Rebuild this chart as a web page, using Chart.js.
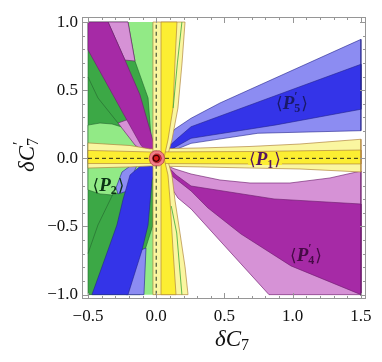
<!DOCTYPE html>
<html>
<head>
<meta charset="utf-8">
<script src="https://cdn.jsdelivr.net/npm/chart.js@4.4.1/dist/chart.umd.min.js"></script>
<style>
  html, body { margin: 0; padding: 0; background: #fff; }
  #wrap { width: 382px; height: 362px; }
</style>
</head>
<body>
<div id="wrap"><canvas id="c" width="382" height="362"></canvas></div>
<script>
// tick labels
const xTicks = [-0.5, 0, 0.5, 1, 1.5];
const yTicks = [-1, -0.5, 0, 0.5, 1];

// region outlines in (dC7, dC7') units
const p2Base = [[-0.5, -1], [0.0, -1], [0.0, 1], [-0.5, 1]];
const p2Inner = [[-0.5, 1], [-0.207, 1], [-0.156, 0.714], [-0.060, 0.443], [-0.031, 0.061], [-0.016, -0.049],
  [-0.024, -0.489], [-0.082, -0.672], [-0.119, -1], [-0.5, -1]];
const p2Hole = [[-0.5, 0.244], [-0.412, 0.259], [-0.324, 0.252], [-0.229, 0.223], [-0.141, 0.171], [-0.082, 0.091],
  [-0.053, -0.012], [-0.075, -0.115], [-0.134, -0.181], [-0.222, -0.239], [-0.324, -0.269], [-0.412, -0.261], [-0.5, -0.232]];
const p2LineUp = [[0.188, 1], [0.155, 0.7], [0.124, 0.369]];
const p2LineDown = [[0.110, -0.35], [0.150, -0.548], [0.188, -1]];

const p4Sliver = [[-0.280, 0.259], [-0.178, 0.296], [-0.046, 0.135], [-0.009, 0.025], [-0.031, 0.003], [-0.156, 0.098]];
const p4EdgeLine = [[-0.5, 0.597], [-0.427, 0.443], [-0.280, 0.259]];
const p4Wedge = [[-0.353, 1], [-0.207, 1], [-0.156, 0.714], [-0.229, 0.721]];
const p4OuterLow = [[0.027, -0.034], [0.137, -0.078], [0.255, -0.115], [0.467, -0.159], [0.687, -0.181], [0.980, -0.181],
  [1.273, -0.144], [1.5, -0.093], [1.5, -1], [0.826, -1], [0.255, -0.371], [0.159, -0.291], [0.064, -0.144]];
const p4Inner = [[-0.5, 1], [-0.353, 1], [-0.229, 0.721], [-0.119, 0.465], [-0.046, 0.208], [0.005, 0.025],
  [0.145, -0.122], [0.255, -0.203], [0.863, -0.298], [1.5, -0.335], [1.5, -1], [0.987, -0.789], [0.621, -0.555],
  [0.379, -0.364], [0.255, -0.239], [0.115, -0.129], [-0.009, -0.027], [-0.113, 0.098], [-0.203, 0.259],
  [-0.317, 0.465], [-0.5, 0.795]];

const p5Sliver = [[-0.119, -0.005], [-0.251, -0.100], [-0.295, -0.217], [-0.280, -0.261], [-0.207, -0.239], [-0.156, -0.085]];
const p5EdgeLine = [[-0.5, -0.698], [-0.427, -0.489], [-0.324, -0.276], [-0.295, -0.217]];
const p5OuterUp = [[-0.002, 0.010], [0.049, 0.113], [0.137, 0.215], [0.255, 0.294], [0.467, 0.406], [1.5, 0.873],
  [1.5, 0.203], [0.745, 0.184], [0.255, 0.110], [0.101, 0.047], [0.013, 0.003]];
const p5OuterLow = [[-0.221, -1], [-0.090, -1], [-0.075, -0.658], [-0.112, -0.672]];
const p5Inner = [[-0.471, -1], [-0.353, -0.672], [-0.288, -0.489], [-0.244, -0.305], [-0.192, -0.122], [-0.082, -0.027],
  [-0.009, 0.017], [0.079, 0.076], [0.159, 0.149], [0.255, 0.232], [0.877, 0.461], [1.5, 0.690], [1.5, 0.360],
  [0.877, 0.245], [0.255, 0.147], [0.115, 0.069], [0.027, -0.012], [-0.031, -0.159], [-0.060, -0.489],
  [-0.104, -0.672], [-0.207, -1]];

const p1OuterH = [[-0.5, 0.113], [-0.192, 0.094], [-0.046, 0.069], [0.321, 0.076], [0.687, 0.087], [1.053, 0.105],
  [1.5, 0.140], [1.5, -0.100], [1.053, -0.078], [0.687, -0.071], [0.321, -0.063], [-0.046, -0.056], [-0.192, -0.063],
  [-0.5, -0.071]];
const p1OuterV = [[-0.024, 1], [0.211, 1], [0.189, 0.699], [0.159, 0.369], [0.115, 0.135], [0.079, 0.003],
  [0.115, -0.122], [0.137, -0.305], [0.174, -0.548], [0.211, -0.796], [0.233, -1], [-0.024, -1]];
const p1InnerH = [[-0.5, 0.058], [-0.046, 0.047], [0.687, 0.050], [1.5, 0.061], [1.5, -0.041], [0.687, -0.041],
  [-0.046, -0.038], [-0.5, -0.038]];
const p1InnerV = [[0.035, 1], [0.152, 1], [0.137, 0.699], [0.123, 0.369], [0.086, 0.135], [0.057, 0.003],
  [0.086, -0.122], [0.101, -0.305], [0.123, -0.672], [0.145, -1], [0.035, -1]];

const dashH = [[-0.5, 0], [1.5, 0]];
const dashV = [[0, -1], [0, 1]];

const combOuter = [[0.062, 0.000], [0.052, 0.034], [0.024, 0.055], [-0.016, 0.055], [-0.043, 0.034], [-0.053, 0.000],
  [-0.043, -0.034], [-0.016, -0.055], [0.024, -0.055], [0.052, -0.034]];
const combInner = [[0.038, 0], [0.032, 0.020], [0.015, 0.032], [-0.005, 0.032], [-0.022, 0.020], [-0.028, 0],
  [-0.022, -0.020], [-0.005, -0.032], [0.015, -0.032], [0.032, -0.020]];
const smPoint = [[0.0, 0.0]];

// labels: text parts, position, colour
const regionLabels = [
  { sub: '5', prime: true, at: [0.995, 0.405], color: 'rgb(25,25,105)' },
  { sub: '1', prime: false, at: [0.797, -0.005], color: 'rgb(85,20,95)', box: 'rgb(252,238,50)' },
  { sub: '2', prime: false, at: [-0.35, -0.195], color: 'rgb(10,50,20)' },
  { sub: '4', prime: true, at: [1.097, -0.709], color: 'rgb(70,10,70)' },
];

const colors = {
  lightGreen: 'rgb(146,234,134)',
  darkGreen: 'rgb(60,168,70)',
  lightPurple: 'rgb(214,146,214)',
  darkPurple: 'rgb(166,42,166)',
  lightBlue: 'rgb(140,140,242)',
  darkBlue: 'rgb(52,52,232)',
  lightYellow: 'rgb(250,246,160)',
  darkYellow: 'rgb(252,238,50)',
};

const toXY = (pts) => pts.map(([x, y]) => ({ x, y }));

function area(pts, fillColor, lineColor, width = 0.8) {
  return {
    data: toXY(pts.concat([pts[0]])),
    showLine: true,
    fill: 'shape',
    backgroundColor: fillColor,
    borderColor: lineColor,
    borderWidth: width,
    pointRadius: 0,
    tension: 0,
  };
}

function curve(pts, color, width, dash) {
  return {
    data: toXY(pts),
    showLine: true,
    fill: false,
    borderColor: color,
    borderWidth: width,
    borderDash: dash || [],
    pointRadius: 0,
    tension: 0,
  };
}

const greenEdge = 'rgba(35,100,45,0.75)';
const purpleEdge = 'rgba(110,30,110,0.8)';
const blueEdge = 'rgba(35,35,140,0.75)';
const yellowEdge = 'rgba(175,130,60,0.85)';

// bottom layer first
const layers = [
  area(p2Base, colors.lightGreen, colors.lightGreen, 0),
  area(p2Inner, colors.darkGreen, greenEdge),
  area(p2Hole, colors.lightGreen, greenEdge),
  area(p4Sliver, colors.lightPurple, purpleEdge),
  area(p5Sliver, colors.lightBlue, blueEdge),
  curve(p4EdgeLine, greenEdge, 0.8),
  curve(p5EdgeLine, greenEdge, 0.8),
  area(p5OuterUp, colors.lightBlue, blueEdge),
  area(p5OuterLow, colors.lightBlue, blueEdge),
  area(p5Inner, colors.darkBlue, blueEdge),
  area(p4Wedge, colors.lightPurple, purpleEdge),
  area(p4OuterLow, colors.lightPurple, purpleEdge),
  area(p4Inner, colors.darkPurple, purpleEdge),
  area(p1OuterH, colors.lightYellow, yellowEdge),
  area(p1OuterV, colors.lightYellow, yellowEdge),
  area(p1InnerH, colors.darkYellow, yellowEdge),
  area(p1InnerV, colors.darkYellow, yellowEdge),
  curve(p2LineUp, 'rgba(60,170,60,0.9)', 0.9),
  curve(p2LineDown, 'rgba(60,170,60,0.9)', 0.9),
  curve(dashH, 'rgba(20,20,20,0.9)', 1, [4, 3]),
  curve(dashV, 'rgba(40,60,40,0.85)', 1.2, [4, 3]),
  area(combOuter, 'rgb(242,125,135)', 'rgba(150,40,50,0.7)'),
  area(combInner, 'rgb(232,38,48)', 'rgba(130,20,30,0.7)'),
  {
    data: toXY(smPoint),
    showLine: false,
    pointStyle: 'circle',
    pointRadius: 3,
    backgroundColor: 'rgb(220,30,30)',
    borderColor: 'rgb(60,0,0)',
    borderWidth: 1.2,
  },
];

const serif = "'Liberation Serif', 'DejaVu Serif', serif";
const fmt = (v) => v.toFixed(1).replace('-', '\u2212');

function drawPLabel(ctx, cx, cy, lab) {
  const fBr = "17px 'DejaVu Serif', serif";
  const fP = 'bold italic 19px ' + serif;
  const fS = 'bold 12px ' + serif;
  ctx.font = fBr;
  const wL = ctx.measureText('\u27E8').width;
  ctx.font = fP;
  const wP = ctx.measureText('P').width;
  ctx.font = fS;
  const wS = ctx.measureText(lab.sub).width + 1;
  const w = wL * 2 + wP + wS;
  let x = cx - w / 2;
  const base = cy + 6;
  if (lab.box) {
    ctx.fillStyle = lab.box;
    ctx.fillRect(x - 1, cy - 6, w + 2, 12);
  }
  ctx.fillStyle = lab.color;
  ctx.textAlign = 'left';
  ctx.textBaseline = 'alphabetic';
  ctx.font = fBr;
  ctx.fillText('\u27E8', x, base);
  x += wL;
  ctx.font = fP;
  ctx.fillText('P', x, base);
  x += wP;
  ctx.font = fS;
  ctx.fillText(lab.sub, x, base + 3);
  if (lab.prime) ctx.fillText('\u2032', x, base - 9);
  x += wS;
  ctx.font = fBr;
  ctx.fillText('\u27E9', x, base);
}

function mathTitle(ctx, cx, base, prime) {
  const big = 'italic 23px ' + serif;
  const small = '16px ' + serif;
  ctx.font = big;
  const w1 = ctx.measureText('\u03B4C').width;
  ctx.font = small;
  const w2 = ctx.measureText('7').width;
  let x = cx - (w1 + w2) / 2;
  ctx.fillStyle = '#111';
  ctx.textAlign = 'left';
  ctx.textBaseline = 'alphabetic';
  ctx.font = big;
  ctx.fillText('\u03B4C', x, base);
  x += w1;
  ctx.font = small;
  ctx.fillText('7', x, base + 4);
  if (prime) ctx.fillText('\u2032', x + 1, base - 10);
}

const decorations = {
  id: 'decorations',
  afterDatasetsDraw(chart) {
    const { ctx, scales: { x, y } } = chart;
    ctx.save();
    regionLabels.forEach((lab) => {
      drawPLabel(ctx, x.getPixelForValue(lab.at[0]), y.getPixelForValue(lab.at[1]), lab);
    });
    ctx.restore();
  },
  afterDraw(chart) {
    const { ctx, chartArea: a, scales: { x, y } } = chart;
    ctx.save();
    ctx.strokeStyle = 'rgb(150,150,150)';
    ctx.lineWidth = 1;
    ctx.strokeRect(a.left + 0.5, a.top + 0.5, a.right - a.left - 1, a.bottom - a.top - 1);
    ctx.beginPath();
    for (let i = 0; i <= 20; i++) {
      const v = -0.5 + i * 0.1;
      const px = Math.round(x.getPixelForValue(v)) + 0.5;
      const len = i % 5 === 0 ? 6 : 3;
      ctx.moveTo(px, a.bottom); ctx.lineTo(px, a.bottom - len);
      ctx.moveTo(px, a.top); ctx.lineTo(px, a.top + len);
    }
    for (let i = 0; i <= 20; i++) {
      const v = -1 + i * 0.1;
      const py = Math.round(y.getPixelForValue(v)) + 0.5;
      const len = i % 5 === 0 ? 6 : 3;
      ctx.moveTo(a.left, py); ctx.lineTo(a.left + len, py);
      ctx.moveTo(a.right, py); ctx.lineTo(a.right - len, py);
    }
    ctx.stroke();
    // axis titles
    mathTitle(ctx, 232, 346, false);
    ctx.translate(34, 155);
    ctx.rotate(-Math.PI / 2);
    mathTitle(ctx, 0, 0, true);
    ctx.restore();
  },
};

new Chart(document.getElementById('c'), {
  type: 'scatter',
  data: { datasets: layers.slice().reverse() },
  options: {
    responsive: false,
    animation: false,
    events: [],
    layout: { padding: { top: 17, right: 16, left: 0, bottom: 0 } },
    plugins: {
      legend: { display: false },
      tooltip: { enabled: false },
    },
    scales: {
      x: {
        type: 'linear',
        min: -0.544,
        max: 1.537,
        grid: { display: false, drawTicks: false },
        border: { display: false },
        afterBuildTicks: (scale) => { scale.ticks = xTicks.map((v) => ({ value: v })); },
        afterFit: (scale) => { scale.height = 63; },
        ticks: {
          callback: (v) => fmt(v),
          autoSkip: false,
          maxRotation: 0,
          padding: 7,
          color: '#111',
          font: { family: serif, size: 17 },
        },
      },
      y: {
        type: 'linear',
        min: -1.032,
        max: 1.037,
        grid: { display: false, drawTicks: false },
        border: { display: false },
        afterBuildTicks: (scale) => { scale.ticks = yTicks.map((v) => ({ value: v })); },
        afterFit: (scale) => { scale.width = 82; },
        ticks: {
          callback: (v) => fmt(v),
          autoSkip: false,
          padding: 4,
          color: '#111',
          font: { family: serif, size: 17 },
        },
      },
    },
  },
  plugins: [decorations],
});
</script>
</body>
</html>
